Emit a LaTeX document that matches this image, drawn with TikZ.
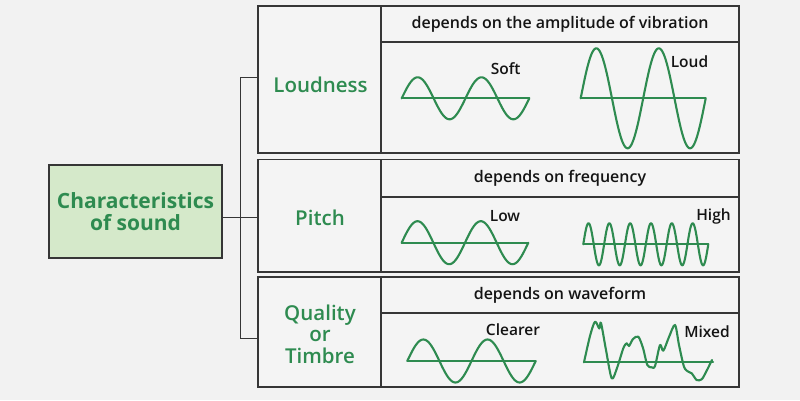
\documentclass[tikz,border=0pt]{standalone}
\usepackage{fontspec}
\setmainfont{Open Sans}
\IfFontExistsTF{Open Sans SemiBold}{\newfontfamily\semib{Open Sans SemiBold}}{%
  \IfFontExistsTF{Open Sans Semibold}{\newfontfamily\semib{Open Sans Semibold}}{%
    \newfontfamily\semib{Open Sans}[FakeBold=3]}}
\definecolor{bgc}{HTML}{F2F2F2}
\definecolor{cellc}{HTML}{F4F4F4}
\definecolor{edgec}{HTML}{363636}
\definecolor{greenc}{HTML}{2E8B50}
\definecolor{mainfill}{HTML}{D5E9CA}
\tikzset{
  cell/.style={draw=edgec, line width=1.3pt, fill=cellc, inner sep=0pt},
  mainbox/.style={draw=edgec, line width=1.2pt, fill=mainfill, minimum width=173pt, minimum height=93pt,
    align=center, text=greenc, font=\fontsize{21}{22}\selectfont\bfseries, inner sep=0pt},
  title/.style={text=greenc, align=center, font=\fontsize{20.5}{21.5}\selectfont\semib, inner sep=0pt},
  header/.style={text=black!92, font=\fontsize{16}{18}\selectfont\semib},
  lab/.style={text=black!92, font=\fontsize{15.5}{18}\selectfont\semib, inner sep=0pt},
  conn/.style={draw=edgec, line width=1pt},
  wave/.style={draw=greenc, line width=2.1pt, line join=round, line cap=round}
}
\begin{document}
\begin{tikzpicture}[x=1pt,y=-1pt]
\fill[bgc] (0,0) rectangle (800,400);
\useasboundingbox (0,0) rectangle (800,400);

% main box
\node[mainbox] (main) at (135.5,211.5) {Characteristics\\of sound};

% row 1
\node[cell, minimum width=123pt, minimum height=147pt] (r1t) at (319.5,79.5) {};
\node[cell, minimum width=358pt, minimum height=36pt, header] (r1h) at (560,24) {depends on the amplitude of vibration};
\node[cell, minimum width=358pt, minimum height=111pt] (r1b) at (560,97.5) {};
% row 2
\node[cell, minimum width=123pt, minimum height=112.5pt] (r2t) at (319.5,215.75) {};
\node[cell, minimum width=358pt, minimum height=37.5pt, header] (r2h) at (560,178.25) {depends on frequency};
\node[cell, minimum width=358pt, minimum height=75pt] (r2b) at (560,234.5) {};
% row 3
\node[cell, minimum width=123pt, minimum height=110pt] (r3t) at (319.5,332) {};
\node[cell, minimum width=358pt, minimum height=36pt, header] (r3h) at (560,295) {depends on waveform};
\node[cell, minimum width=358pt, minimum height=74pt] (r3b) at (560,350) {};

% titles
\node[title] (t1) at (320.5,85) {Loudness};
\node[title] (t2) at (320,218) {Pitch};
\node[title] (t3) at (320,334) {Quality\\or\\Timbre};

% connectors
\coordinate (ja) at (240,77);
\coordinate (jb) at (240,217);
\coordinate (jc) at (240,338);
\draw[conn] (main.east |- jb) -- (jb);
\draw[conn] (ja) -- (jc);
\draw[conn] (ja) -- (ja -| r1t.west);
\draw[conn] (jb) -- (jb -| r2t.west);
\draw[conn] (jc) -- (jc -| r3t.west);

% Soft
\draw[wave] (401.7,98.3) -- (529.3,98.3);
\draw[wave] plot[domain=0:2, samples=120, smooth] ({401.7+63.8*\x},{98.3-21*sin(360*\x)});
\node[lab] (soft) at (505.7,69) {Soft};
% Loud
\draw[wave] (580.7,98.3) -- (705.7,98.3);
\draw[wave] plot[domain=0:2, samples=120, smooth] ({580.7+62.5*\x},{98.3-50*sin(360*\x)});
\node[lab] (loud) at (689.5,62) {Loud};
% Low
\draw[wave] (401.7,242.7) -- (528.3,242.7);
\draw[wave] plot[domain=0:2, samples=120, smooth] ({401.7+63.3*\x},{242.7-21.5*sin(360*\x)});
\node[lab] (low) at (505,216) {Low};
% High
\draw[wave] (583.3,244.3) -- (708.3,244.3);
\draw[wave] plot[domain=0:6, samples=360, smooth] ({583.3+20.83*\x},{244.3-21*sin(360*\x)});
\node[lab] (high) at (713.5,216) {High};
% Clearer
\draw[wave] (407.3,361) -- (535.7,361);
\draw[wave] plot[domain=0:2, samples=120, smooth] ({407.3+64.2*\x},{361-21.5*sin(360*\x)});
\node[lab] (clearer) at (513,330) {Clearer};
% Mixed
\draw[wave] (584,362.3) -- (713,362.3);
\draw[wave] plot[smooth, tension=0.5] coordinates {(584,362.3) (590,336) (595,321.7) (599.3,328.5) (601,323) (606,350) (611.7,378.3) (617,368) (623.3,348.3) (626.7,343.3) (629,346) (633,339) (638.3,336.7) (643,348) (647.3,365) (651.7,367.3) (655,366) (660,345) (663.3,350.7) (669,337) (675,325) (679,345) (684,366.7) (688.3,371.7) (691.7,373.3) (696.7,380) (701.7,379.3) (706,372) (712,360)};
\node[lab] (mixed) at (707,332) {Mixed};
\end{tikzpicture}
\end{document}
